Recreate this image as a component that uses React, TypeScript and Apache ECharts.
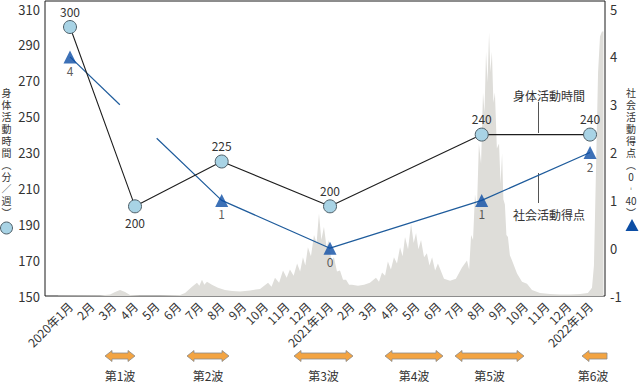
import React, { useEffect, useRef } from "react";
import * as echarts from "echarts";

const months = [
  "2020年1月", "2月", "3月", "4月", "5月", "6月", "7月", "8月", "9月", "10月", "11月", "12月",
  "2021年1月", "2月", "3月", "4月", "5月", "6月", "7月", "8月", "9月", "10月", "11月", "12月",
  "2022年1月",
];

// 身体活動時間（分／週）
const physIdx = [0, 3, 7, 12, 19, 24];
const physVals = [300, 200, 225, 200, 240, 240];
const physLabelPos = ["top", "bottom", "top", "top", "top", "top"];

// 社会活動得点（0-40）
const socialIdx = [0, 7, 12, 19, 24];
const socialVals = [4, 1, 0, 1, 2];
// the blue line is interrupted between these two points
const socialBreakStart = [2.3, 3.0];
const socialBreakEnd = [4.0, 2.3];

// background: daily new cases (thousands), by month index
const caseIdx = [
  -0.55, 1.38, 1.85, 2.08, 2.31, 2.54, 2.77, 3.23, 4.15, 5.08, 5.31, 5.63, 5.86, 5.97, 6.09, 6.2,
  6.32, 6.55, 6.83, 7.15, 7.48, 7.85, 8.31, 8.77, 9.14, 9.3, 9.46, 9.65, 9.83, 10.0, 10.15, 10.32,
  10.48, 10.62, 10.75, 10.86, 10.98, 11.12, 11.26, 11.38, 11.49, 11.6, 11.72, 11.84, 11.95, 12.06,
  12.18, 12.32, 12.46, 12.6, 12.74, 12.88, 13.01, 13.29, 13.57, 13.84, 14.12, 14.26, 14.4, 14.54,
  14.67, 14.81, 14.95, 15.09, 15.23, 15.35, 15.46, 15.6, 15.74, 15.86, 15.97, 16.08, 16.2, 16.34,
  16.47, 16.59, 16.71, 16.85, 16.98, 17.26, 17.54, 17.81, 18.09, 18.32, 18.42, 18.51, 18.6, 18.69,
  18.78, 18.87, 18.97, 19.06, 19.13, 19.2, 19.27, 19.34, 19.4, 19.47, 19.54, 19.61, 19.7, 19.8,
  19.87, 19.94, 20.0, 20.07, 20.14, 20.21, 20.3, 20.4, 20.63, 20.86, 21.09, 21.32, 21.69, 22.15,
  22.61, 23.07, 23.54, 23.9, 24.09, 24.18, 24.27, 24.37, 24.46, 24.55, 24.62,
];
const caseVals = [
  0.02, 0.05, 0.15, 0.4, 0.6, 0.4, 0.1, 0.05, 0.05, 0.1, 0.3, 0.9, 1.3, 1.0, 1.6, 1.1,
  1.4, 1.1, 0.8, 0.6, 0.5, 0.45, 0.55, 0.7, 1.3, 0.9, 1.8, 1.3, 2.5, 1.8, 2.6, 2.0,
  3.2, 2.4, 3.8, 3.0, 4.8, 3.9, 6.0, 5.2, 8.1, 5.5, 6.8, 4.8, 5.5, 3.4,
  3.8, 2.4, 2.5, 1.6, 1.6, 1.1, 1.1, 1.0, 1.1, 1.3, 1.8, 1.4, 2.3, 2.0,
  3.4, 2.6, 3.8, 3.2, 4.8, 3.9, 5.8, 4.6, 7.1, 5.2, 6.2, 4.6, 5.5, 3.8,
  4.2, 3.0, 3.8, 2.5, 3.2, 1.7, 1.5, 1.7, 2.8, 3.5, 2.6, 6, 5.5, 10,
  8.5, 15, 13, 20, 18, 24, 21, 25.9, 22, 24, 19, 20, 14.5, 15,
  11, 14, 9.5, 9, 6, 5.8, 4.0, 3.5, 2.2, 1.4, 1.2, 0.6, 0.3, 0.2,
  0.15, 0.15, 0.2, 0.3, 0.8, 3, 12, 22, 25.5, 26, 26,
];

const waves = ["第1波", "第2波", "第3波", "第4波", "第5波", "第6波"];
const leftTitle = ["身", "体", "活", "動", "時", "間", "︵", "分", "／", "週", "︶"];
const rightTitle = ["社", "会", "活", "動", "得", "点", "︵", "0", "︲", "40", "︶"];

const FONT = '"Noto Sans CJK JP", "Noto Sans", sans-serif';
const TXT = "#333";

function dblArrow(x1: number, x2: number, c: number, leftOnly = false) {
  const hl = 7, hh = 5.5, sh = 3;
  const pts = leftOnly
    ? [[x1, c], [x1 + hl, c - hh], [x1 + hl, c - sh], [x2, c - sh], [x2, c + sh], [x1 + hl, c + sh], [x1 + hl, c + hh]]
    : [[x1, c], [x1 + hl, c - hh], [x1 + hl, c - sh], [x2 - hl, c - sh], [x2 - hl, c - hh], [x2, c],
       [x2 - hl, c + hh], [x2 - hl, c + sh], [x1 + hl, c + sh], [x1 + hl, c + hh]];
  return {
    type: "polygon",
    shape: { points: pts },
    style: { fill: "#f3a442", stroke: "#8a8a8a", lineWidth: 0.8 },
  };
}

const PITCH = 12;
function vText(chars: string[], x: number, y0: number) {
  return chars.map((ch, i) => ({
    type: "text",
    x,
    y: y0 + i * PITCH + PITCH / 2,
    style: { text: ch, fontSize: 10, fontFamily: FONT, fill: TXT, align: "center", verticalAlign: "middle" },
  }));
}

export default function App() {
  const ref = useRef<HTMLDivElement>(null);
  useEffect(() => {
    if (!ref.current) return;
    const chart = echarts.init(ref.current, null, { renderer: "svg" });
    const arrowSpans: [number, number, boolean][] = [
      [105, 135, false], [187, 229, false], [294, 353, false],
      [385, 443, false], [455, 524, false], [582, 607, true],
    ];
    const waveGraphics: any[] = [];
    arrowSpans.forEach(([a, b, lo], i) => {
      waveGraphics.push(dblArrow(a, b, 356, lo));
      waveGraphics.push({
        type: "text",
        x: i === 5 ? 593 : (a + b) / 2,
        y: 375,
        style: { text: waves[i], fontSize: 12, fontFamily: FONT, fill: TXT, align: "center", verticalAlign: "middle" },
      });
    });

    chart.setOption({
      animation: false,
      grid: { left: 45, right: 35, top: 1, bottom: 86, show: true, borderColor: "#1a1a1a", borderWidth: 1, backgroundColor: "transparent" },
      xAxis: {
        type: "value",
        min: -1.154,
        max: 24.69,
        minInterval: 1,
        maxInterval: 1,
        axisLine: { show: false },
        axisTick: { show: false },
        splitLine: { show: false },
        axisLabel: {
          rotate: 45,
          margin: 8,
          fontSize: 12,
          fontFamily: FONT,
          color: TXT,
          showMinLabel: true,
          showMaxLabel: true,
          formatter: (v: number) => {
            const r = Math.round(v);
            if (Math.abs(v - r) > 1e-6 || r < 0 || r >= months.length) return "";
            return months[r];
          },
        },
      },
      yAxis: [
        {
          type: "value",
          min: 150,
          max: 314.5,
          interval: 20,
          position: "left",
          axisLine: { show: false },
          axisTick: { show: false },
          splitLine: { show: false },
          axisLabel: {
            fontSize: 13,
            fontFamily: FONT,
            color: TXT,
            margin: 5,
            formatter: (v: number) => ((v - 150) % 20 === 0 ? String(v) : ""),
          },
        },
        {
          type: "value",
          min: -1,
          max: 5.17,
          interval: 1,
          position: "right",
          axisLine: { show: false },
          axisTick: { show: false },
          splitLine: { show: false },
          axisLabel: {
            fontSize: 13,
            fontFamily: FONT,
            color: TXT,
            margin: 5,
            formatter: (v: number) => (Math.abs(v - Math.round(v)) < 1e-6 ? String(Math.round(v)) : ""),
          },
        },
        { type: "value", min: 0, max: 29, show: false },
      ],
      series: [
        {
          type: "line",
          yAxisIndex: 2,
          data: caseIdx.map((x, i) => [x, caseVals[i]]),
          symbol: "none",
          silent: true,
          lineStyle: { width: 0 },
          areaStyle: { color: "#deddd9", opacity: 1 },
          z: 1,
        },
        {
          type: "line",
          yAxisIndex: 1,
          data: [[socialIdx[0], socialVals[0]], socialBreakStart],
          symbol: "none",
          silent: true,
          lineStyle: { color: "#1f5c9c", width: 1.2 },
          z: 3,
        },
        {
          type: "line",
          yAxisIndex: 1,
          data: [socialBreakEnd, ...socialIdx.slice(1).map((x, i) => [x, socialVals[i + 1]])],
          symbol: "none",
          silent: true,
          lineStyle: { color: "#1f5c9c", width: 1.2 },
          z: 3,
        },
        {
          type: "scatter",
          yAxisIndex: 1,
          data: socialIdx.map((x, i) => [x, socialVals[i]]),
          symbol: "triangle",
          symbolSize: 13,
          itemStyle: { color: "#0c4ea5" },
          label: {
            show: true,
            position: "bottom",
            distance: 1,
            fontSize: 12,
            fontFamily: FONT,
            color: TXT,
            formatter: (p: any) => String(p.value[1]),
          },
          z: 5,
        },
        {
          type: "line",
          yAxisIndex: 0,
          data: physIdx.map((x, i) => ({
            value: [x, physVals[i]],
            label: { position: physLabelPos[i] },
          })),
          symbol: "circle",
          symbolSize: 13,
          showAllSymbol: true,
          lineStyle: { color: "#1e1e1e", width: 1.1 },
          itemStyle: { color: "#a8d3e5", borderColor: "#4f5f68", borderWidth: 1 },
          label: {
            show: true,
            distance: 3,
            fontSize: 12,
            fontFamily: FONT,
            color: TXT,
            formatter: (p: any) => String(p.value[1]),
          },
          z: 6,
        },
      ],
      graphic: [
        ...vText(leftTitle, 6.5, 86),
        { type: "circle", shape: { cx: 6.5, cy: 228, r: 6 }, style: { fill: "#a8d3e5", stroke: "#4f5f68", lineWidth: 1 } },
        ...vText(rightTitle, 631, 86),
        { type: "polygon", shape: { points: [[632, 219], [638.5, 231], [625.5, 231]] }, style: { fill: "#0c4ea5" } },
        {
          type: "text",
          x: 549,
          y: 95,
          style: { text: "身体活動時間", fontSize: 12, fontFamily: FONT, fill: TXT, align: "center", verticalAlign: "middle" },
        },
        { type: "line", shape: { x1: 538.5, y1: 102, x2: 538.5, y2: 133 }, style: { stroke: "#555", lineWidth: 1 } },
        {
          type: "text",
          x: 549,
          y: 214,
          style: { text: "社会活動得点", fontSize: 12, fontFamily: FONT, fill: TXT, align: "center", verticalAlign: "middle" },
        },
        { type: "line", shape: { x1: 538.5, y1: 173, x2: 538.5, y2: 203 }, style: { stroke: "#555", lineWidth: 1 } },
        ...waveGraphics,
      ],
    });
    return () => chart.dispose();
  }, []);
  return <div ref={ref} style={{ width: 640, height: 382, position: "absolute", left: 0, top: 0 }} />;
}
